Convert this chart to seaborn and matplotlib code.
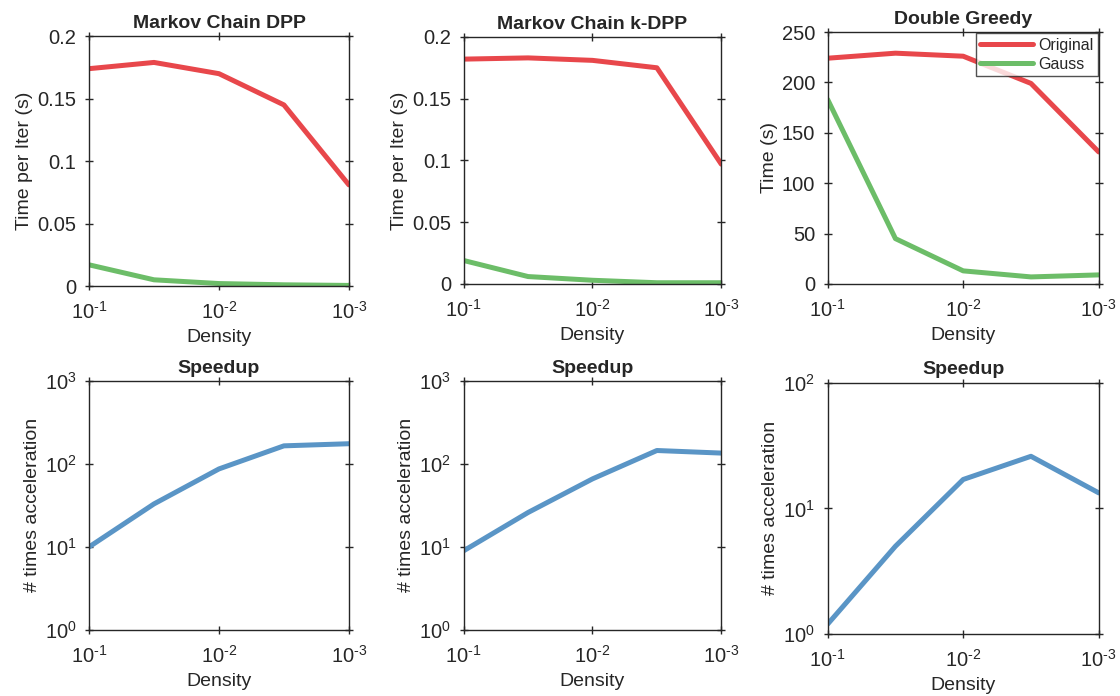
import numpy as np
import pandas as pd
import seaborn as sns
import matplotlib.pyplot as plt
from matplotlib.ticker import LogLocator, NullLocator, FuncFormatter

# data
density = [1e-1, 10**-1.5, 1e-2, 10**-2.5, 1e-3]

mc_dpp_original = [0.174, 0.179, 0.170, 0.145, 0.081]
mc_dpp_gauss = [0.017, 0.005, 0.002, 0.001, 0.0005]

mc_kdpp_original = [0.182, 0.183, 0.181, 0.175, 0.097]
mc_kdpp_gauss = [0.019, 0.006, 0.003, 0.001, 0.001]

dg_original = [224, 229, 226, 199, 131]
dg_gauss = [183, 45, 13, 7, 9]

speedup_dpp = [10, 33, 87, 165, 175]
speedup_kdpp = [9, 26, 66, 145, 135]
speedup_dg = [1.2, 5, 17, 26, 13.3]

titles_top = ["Markov Chain DPP", "Markov Chain k-DPP", "Double Greedy"]
ylabels_top = ["Time per Iter (s)", "Time per Iter (s)", "Time (s)"]

red = "#e8474b"
green = "#6cbd68"
blue = "#5a95c6"
ink = "#262626"

sns.set_style("ticks")
plt.rcParams['font.family'] = ['Liberation Sans', 'DejaVu Sans']
plt.rcParams['mathtext.fontset'] = 'custom'
plt.rcParams['mathtext.rm'] = 'Liberation Sans'
plt.rcParams['axes.unicode_minus'] = False


def pow10(v, pos=None):
    # matlab-like 10^n label with a plain hyphen
    e = int(round(np.log10(v)))
    return r"$\mathrm{10}^{\text{%d}}$" % e


fig = plt.figure(figsize=(11.2, 6.96), dpi=100)

# axes positions (left, bottom, width, height)
pos = [
    [0.0795, 0.589, 0.232, 0.359],
    [0.414, 0.592, 0.230, 0.355],
    [0.739, 0.592, 0.242, 0.362],
    [0.0795, 0.0948, 0.232, 0.358],
    [0.414, 0.0948, 0.230, 0.358],
    [0.739, 0.089, 0.242, 0.361],
]
axes = [fig.add_axes(p) for p in pos]


def style_axis(ax):
    ax.set_xscale("log")
    ax.set_xlim(1e-1, 1e-3)
    ax.xaxis.set_major_locator(LogLocator(base=10, numticks=10))
    ax.xaxis.set_minor_locator(NullLocator())
    ax.xaxis.set_major_formatter(FuncFormatter(pow10))
    for s in ax.spines.values():
        s.set_visible(True)
        s.set_color(ink)
        s.set_linewidth(1.0)
    ax.tick_params(direction="inout", top=True, right=True, length=6, width=1,
                   labelsize=14.5, colors=ink)
    ax.tick_params(axis="x", pad=8)
    ax.tick_params(axis="y", pad=6)
    ax.tick_params(which="minor", length=0)
    ax.set_xlabel("Density", fontsize=14, color=ink, labelpad=4)


# top row: timing
top_data = [
    (mc_dpp_original, mc_dpp_gauss),
    (mc_kdpp_original, mc_kdpp_gauss),
    (dg_original, dg_gauss),
]
for i, (orig, gauss) in enumerate(top_data):
    ax = axes[i]
    df = pd.DataFrame({
        "density": density * 2,
        "time": orig + gauss,
        "method": ["Original"] * 5 + ["Gauss"] * 5,
    })
    sns.lineplot(data=df, x="density", y="time", hue="method",
                 palette={"Original": red, "Gauss": green}, linewidth=3.6,
                 ax=ax, legend=(i == 2))
    style_axis(ax)
    ax.set_title(titles_top[i], fontsize=14, fontweight="bold", pad=6)
    ax.set_ylabel(ylabels_top[i], fontsize=14, color=ink, labelpad=3)
    if i < 2:
        ax.set_ylim(0, 0.2)
        ax.set_yticks([0, 0.05, 0.1, 0.15, 0.2])
        ax.set_yticklabels(["0", "0.05", "0.1", "0.15", "0.2"])
    else:
        ax.set_ylim(0, 250)
        ax.set_yticks([0, 50, 100, 150, 200, 250])
        leg = ax.legend(loc="upper right", fontsize=11.5, frameon=True,
                        fancybox=False, borderaxespad=0.05, handlelength=3.3,
                        borderpad=0.3, labelspacing=0.25, handletextpad=0.3)
        leg.get_frame().set_edgecolor(ink)
        leg.get_frame().set_linewidth(1.0)

# bottom row: speedup
speedups = [speedup_dpp, speedup_kdpp, speedup_dg]
ylims = [(1, 1e3), (1, 1e3), (1, 1e2)]
for i, sp in enumerate(speedups):
    ax = axes[3 + i]
    sns.lineplot(x=density, y=sp, color=blue, linewidth=3.6, ax=ax)
    style_axis(ax)
    ax.set_yscale("log")
    ax.set_ylim(*ylims[i])
    ax.yaxis.set_major_locator(LogLocator(base=10, numticks=10))
    ax.yaxis.set_minor_locator(NullLocator())
    ax.yaxis.set_major_formatter(FuncFormatter(pow10))
    ax.tick_params(which="minor", length=0)
    ax.set_title("Speedup", fontsize=14, fontweight="bold", pad=6)
    ax.set_ylabel("# times acceleration", fontsize=14, color=ink, labelpad=3)

fig.savefig("out.png", dpi=100)
